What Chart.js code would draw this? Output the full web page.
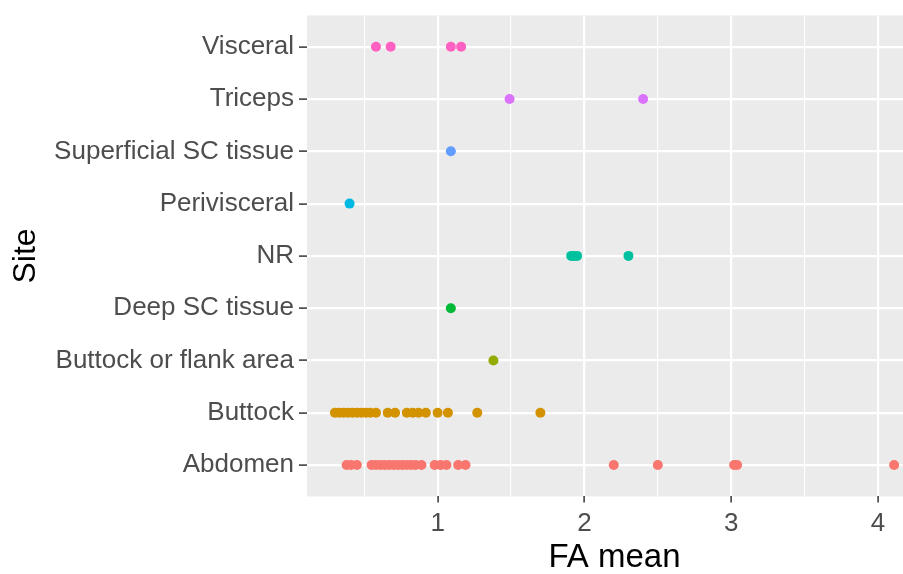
<!DOCTYPE html>
<html>
<head>
<meta charset="utf-8">
<script src="https://cdn.jsdelivr.net/npm/chart.js@4"></script>
<style>
  html, body { margin: 0; padding: 0; background: #fff; overflow: hidden; width: 903px; height: 574px; }
  #wrap { width: 903px; height: 574px; overflow: hidden; position: relative; }
  #c { position: absolute; left: 0; top: 0; }
</style>
</head>
<body>
<div id="wrap"><canvas id="c" width="927" height="574"></canvas></div>
<script>
// Categories, bottom to top
const sites = ["Abdomen", "Buttock", "Buttock or flank area", "Deep SC tissue", "NR",
               "Perivisceral", "Superficial SC tissue", "Triceps", "Visceral"];
const siteColors = ["#F8766D", "#D39200", "#93AA00", "#00BA38", "#00C19F",
                    "#00B9E3", "#619CFF", "#DB72FB", "#FF61C3"];

// FA mean values per site
const abdomen = [0.38, 0.41, 0.45, 0.55, 0.58, 0.61, 0.64, 0.67, 0.70, 0.73, 0.76, 0.79, 0.82, 0.85, 0.89,
                 0.98, 1.02, 1.06, 1.14, 1.19, 2.20, 2.50, 3.02, 3.04, 4.11];
const buttock = [0.30, 0.33, 0.36, 0.39, 0.42, 0.45, 0.48, 0.51, 0.54, 0.58, 0.66, 0.71, 0.79, 0.83, 0.87,
                 0.92, 1.00, 1.07, 1.27, 1.70];
const buttockFlank = [1.38];
const deepSC = [1.09];
const nr = [1.91, 1.93, 1.95, 2.30];
const perivisceral = [0.40];
const superficialSC = [1.09];
const triceps = [1.49, 2.40];
const visceral = [0.58, 0.68, 1.09, 1.16];

const seriesValues = [abdomen, buttock, buttockFlank, deepSC, nr, perivisceral, superficialSC, triceps, visceral];

const xTickLabels = ["1", "2", "3", "4"];

const datasets = sites.map((s, i) => ({
  label: s,
  data: seriesValues[i].map(v => ({ x: v, y: i + 1 })),
  backgroundColor: siteColors[i],
  borderColor: siteColors[i],
  borderWidth: 0,
  pointRadius: 5,
  pointHoverRadius: 5
}));

const panelBg = {
  id: 'panelBg',
  beforeDraw(chart) {
    const { ctx, chartArea: a } = chart;
    ctx.save();
    ctx.fillStyle = '#EBEBEB';
    ctx.fillRect(a.left, a.top, a.right - a.left, a.bottom - a.top);
    ctx.restore();
  }
};

const labelFont = { family: "'Liberation Sans', Arial, sans-serif", size: 26 };

function zeroPad(scale) {
  scale.paddingLeft = 0; scale.paddingRight = 0;
  scale.paddingTop = 0; scale.paddingBottom = 0;
}

new Chart(document.getElementById('c'), {
  type: 'scatter',
  data: { datasets },
  plugins: [panelBg],
  options: {
    responsive: false,
    animation: false,
    events: [],
    layout: { padding: { top: 15.4, right: 0, left: 0, bottom: 0 } },
    plugins: { legend: { display: false }, tooltip: { enabled: false } },
    scales: {
      x: {
        type: 'linear',
        min: 0.11,
        max: 4.30,
        border: { display: false },
        ticks: {
          stepSize: 0.5,
          includeBounds: false,
          autoSkip: false,
          maxRotation: 0,
          color: '#4D4D4D',
          font: labelFont,
          padding: 6,
          callback: (v) => Number.isInteger(v) ? xTickLabels[v - 1] : ''
        },
        grid: {
          color: '#FFFFFF',
          lineWidth: (ctx) => (ctx.tick && Number.isInteger(ctx.tick.value)) ? 2.2 : 1.1,
          tickColor: (ctx) => (ctx.tick && Number.isInteger(ctx.tick.value)) ? '#333333' : 'rgba(0,0,0,0)',
          tickLength: 6,
          tickWidth: 1.5,
          drawOnChartArea: true
        },
        title: {
          display: true,
          text: 'FA mean',
          color: '#000',
          font: { family: "'Liberation Sans', Arial, sans-serif", size: 33, lineHeight: 1.0 },
          padding: { top: 7, bottom: 0 }
        },
        afterFit(scale) { scale.height = 77.6; zeroPad(scale); }
      },
      y: {
        type: 'linear',
        min: 0.4,
        max: 9.6,
        border: { display: false },
        ticks: {
          stepSize: 1,
          includeBounds: false,
          autoSkip: false,
          color: '#4D4D4D',
          font: labelFont,
          padding: 5,
          callback: (v) => Number.isInteger(v) ? sites[v - 1] : ''
        },
        grid: {
          color: '#FFFFFF',
          lineWidth: 2.2,
          tickColor: '#333333',
          tickLength: 8,
          tickWidth: 1.5
        },
        title: {
          display: true,
          text: 'Site',
          color: '#000',
          font: { family: "'Liberation Sans', Arial, sans-serif", size: 32 },
          padding: { top: 7, bottom: 0 }
        },
        afterFit(scale) { scale.width = 307; zeroPad(scale); }
      }
    }
  }
});
</script>
</body>
</html>
